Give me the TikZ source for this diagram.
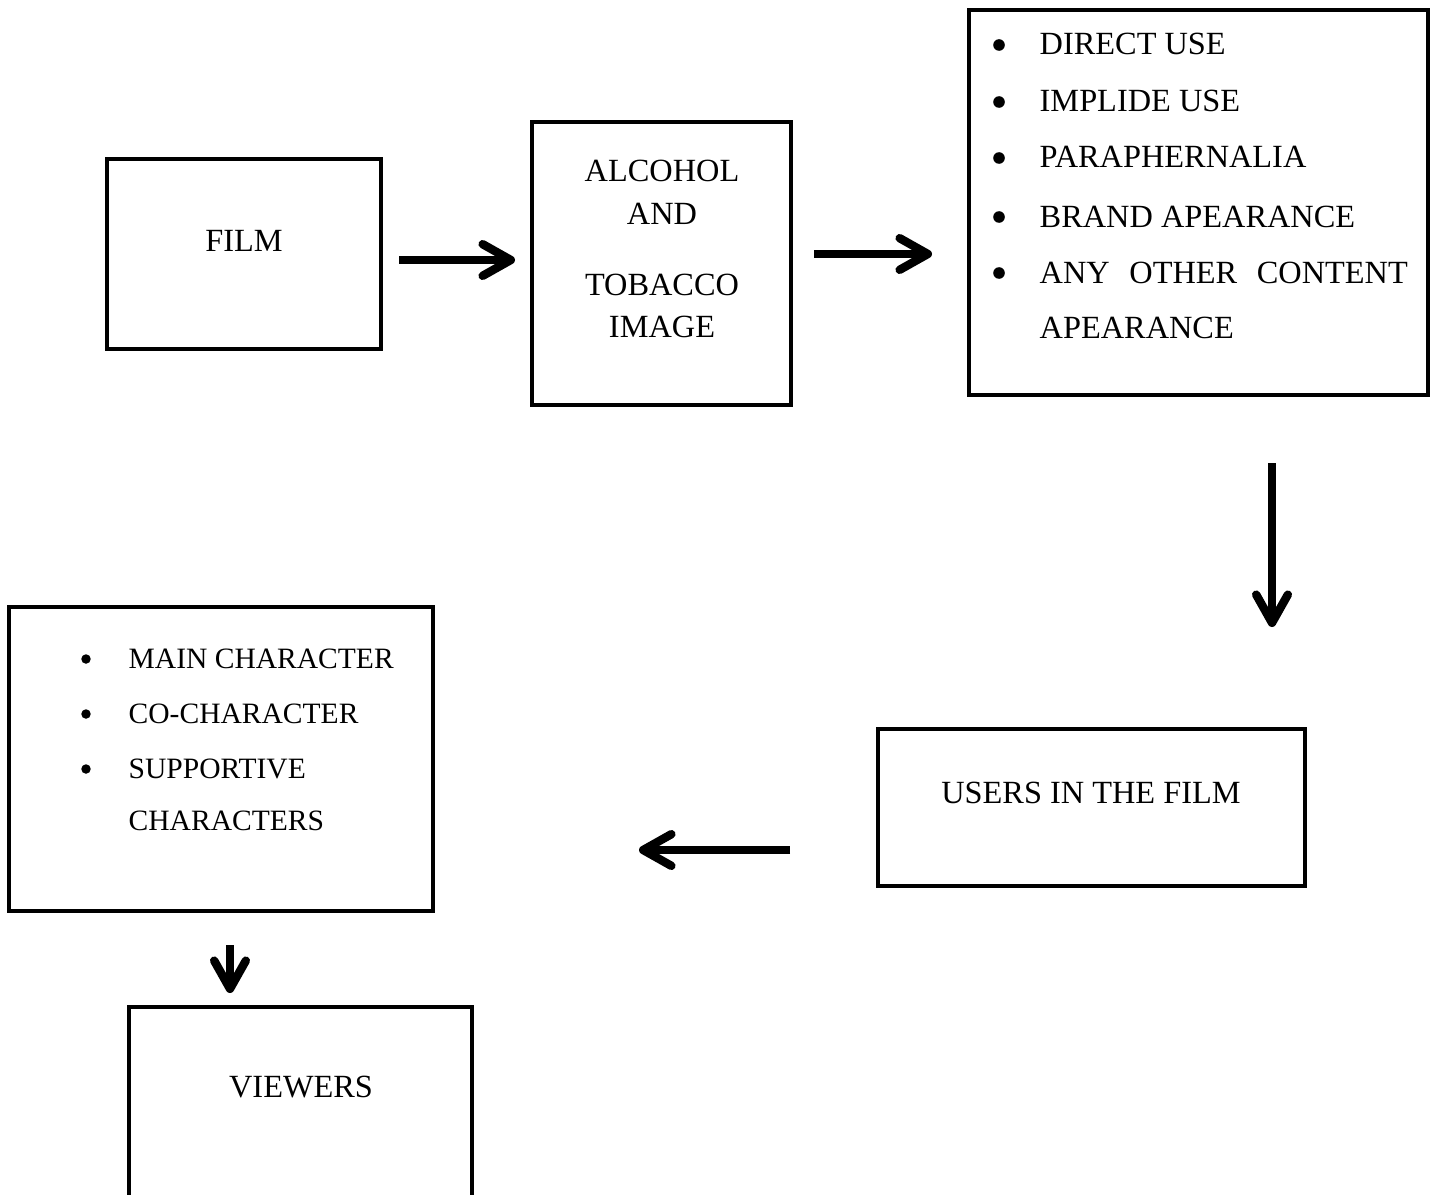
\documentclass[tikz,border=0pt]{standalone}
\usepackage{fontspec}
\setmainfont{Liberation Serif}
\usetikzlibrary{arrows.meta,fit}

\begin{document}
\begin{tikzpicture}[x=0.01cm,y=-0.01cm,
    box/.style={draw,line width=1.2pt,inner sep=0pt},
    txt/.style={font=\fontsize{9.2}{11}\selectfont,inner sep=0pt},
    small/.style={font=\fontsize{8.4}{10}\selectfont,inner sep=0pt},
    dot/.style={circle,fill,inner sep=0pt,minimum size=3.3pt},
    flow/.style={line width=2.4pt,-{Straight Barb[round,length=8pt,width=9pt]}}]
    \path[use as bounding box,clip] (0,0) rectangle (1434,1194);
    % boxes
    \node[box,fit={(107,159) (381,349)}] (film) {};
    \node[box,fit={(532,122) (791,405)}] (image) {};
    \node[box,fit={(969,10) (1428,395)}] (uses) {};
    \node[box,fit={(878,729) (1305,886)}] (users) {};
    \node[box,fit={(9,607) (433,911)}] (chars) {};
    \node[box,fit={(129,1007) (472,1230)}] (viewers) {};
    % texts
    \node[txt,anchor=base] (filmtxt) at (244,251) {FILM};
    \foreach \y/\t [count=\i] in {182/ALCOHOL,225/AND,295/TOBACCO,337/IMAGE}
      \node[txt,anchor=base] (img\i) at (662,\y) {\t};
    \foreach \y/\t [count=\i] in {55/DIRECT USE,112/IMPLIDE USE,168/PARAPHERNALIA,227/BRAND APEARANCE,283/}{
      \node[dot] (ub\i) at (999,\y-10) {};
      \node[txt,anchor=base west] (ut\i) at (1039,\y) {\t};
    }
    \node[txt,anchor=base west] (ut5) at (1039,283) {\makebox[104.7pt][s]{ANY OTHER CONTENT}};
    \node[txt,anchor=base west] (ut6) at (1039,338) {APEARANCE};
    \node[txt,anchor=base] (userstxt) at (1091,803) {USERS IN THE FILM};
    \foreach \y/\t [count=\i] in {668/MAIN CHARACTER,723/CO-CHARACTER,778/SUPPORTIVE}{
      \node[dot,minimum size=2.7pt] (cb\i) at (86,\y-9) {};
      \node[small,anchor=base west] (ct\i) at (128,\y) {\t};
    }
    \node[small,anchor=base west] (ct4) at (128,830) {CHARACTERS};
    \node[txt,anchor=base] (viewerstxt) at (301,1097) {VIEWERS};
    % arrows
    \coordinate (a1s) at (399,260); \coordinate (a1e) at (515,260);
    \coordinate (a2s) at (814,254); \coordinate (a2e) at (932,254);
    \coordinate (a3s) at (1272,463); \coordinate (a3e) at (1272,627);
    \coordinate (a4s) at (790,850); \coordinate (a4e) at (639,850);
    \coordinate (a5s) at (230,945); \coordinate (a5e) at (230,993);
    \foreach \a in {a1,a2,a3,a4,a5}
      \draw[flow] (\a s) -- (\a e);
\end{tikzpicture}
\end{document}
